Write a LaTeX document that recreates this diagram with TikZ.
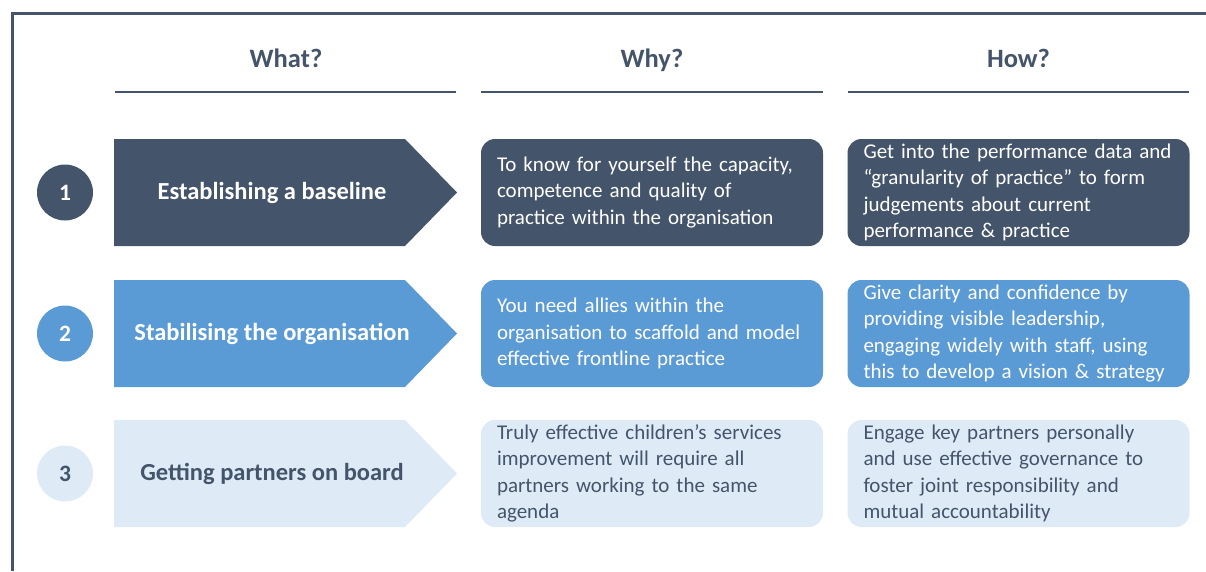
\documentclass[tikz,border=0pt]{standalone}
\usepackage{fontspec}
\setmainfont{Carlito}
\usepackage{tikz}
\usepackage{color,xcolor}
\definecolor{dk}{HTML}{44546A}
\definecolor{md}{HTML}{5B9BD5}
\definecolor{lt}{HTML}{DEEBF7}

\begin{document}
\begin{tikzpicture}[x=1pt,y=-1pt]
            \tikzstyle{every node}=[font=\fontsize{21}{26.5}\selectfont]
            \tikzstyle{head}=[font=\fontsize{26.5}{30}\selectfont\bfseries,text=dk,anchor=base]
            \tikzstyle{num}=[circle,minimum size=56pt,inner sep=0pt,font=\fontsize{23.5}{26}\selectfont\bfseries]
            \tikzstyle{lab}=[font=\fontsize{24.5}{28}\selectfont\bfseries]
            \tikzstyle{box}=[rounded corners=14pt,minimum width=342pt,minimum height=107pt,text width=310pt,align=left,inner sep=0pt]
            \useasboundingbox (0,0) rectangle (1206,571);
            \draw[dk,line width=3pt] (12,571)--(12,13)--(1206,13);
            % column heads
            \node[head] (what) at (286,67) {What?};
            \node[head] (why) at (652,67) {Why?};
            \node[head] (how) at (1018.5,67) {How?};
            \draw[dk,line width=2pt] (115,92)--(456,92);
            \draw[dk,line width=2pt] (481,92)--(823,92);
            \draw[dk,line width=2pt] (848,92)--(1189,92);
            % row 1
            \node[num,fill=dk,text=white] (n1) at (65,192.5) {1};
            \fill[dk] (114,139)--(405,139)--(457,192.5)--(405,246)--(114,246)--cycle;
            \node[lab,text=white] (base) at (272,192.5) {Establishing a baseline};
            \node[box,fill=dk,text=white] (why1) at (652,192.5) {To know for yourself the capacity,\\competence and quality of\\practice within the organisation};
            \node[box,fill=dk,text=white] (how1) at (1018.5,192.5) {Get into the performance data and\\“granularity of practice” to form\\judgements about current\\performance \& practice};
            % row 2
            \node[num,fill=md,text=white] (n2) at (65,333.5) {2};
            \fill[md] (114,280)--(405,280)--(457,333.5)--(405,387)--(114,387)--cycle;
            \node[lab,text=white] (stab) at (272,333.5) {Stabilising the organisation};
            \node[box,fill=md,text=white] (why2) at (652,333.5) {You need allies within the\\organisation to scaffold and model\\effective frontline practice};
            \node[box,fill=md,text=white] (how2) at (1018.5,333.5) {Give clarity and confidence by\\providing visible leadership,\\engaging widely with staff, using\\this to develop a vision \& strategy};
            % row 3
            \node[num,fill=lt,text=dk] (n3) at (65,473.5) {3};
            \fill[lt] (114,420)--(405,420)--(457,473.5)--(405,527)--(114,527)--cycle;
            \node[lab,text=dk] (part) at (272,473.5) {Getting partners on board};
            \node[box,fill=lt,text=dk] (why3) at (652,473.5) {Truly effective children’s services\\improvement will require all\\partners working to the same\\agenda};
            \node[box,fill=lt,text=dk] (how3) at (1018.5,473.5) {Engage key partners personally\\and use effective governance to\\foster joint responsibility and\\mutual accountability};
          \end{tikzpicture}
\end{document}
